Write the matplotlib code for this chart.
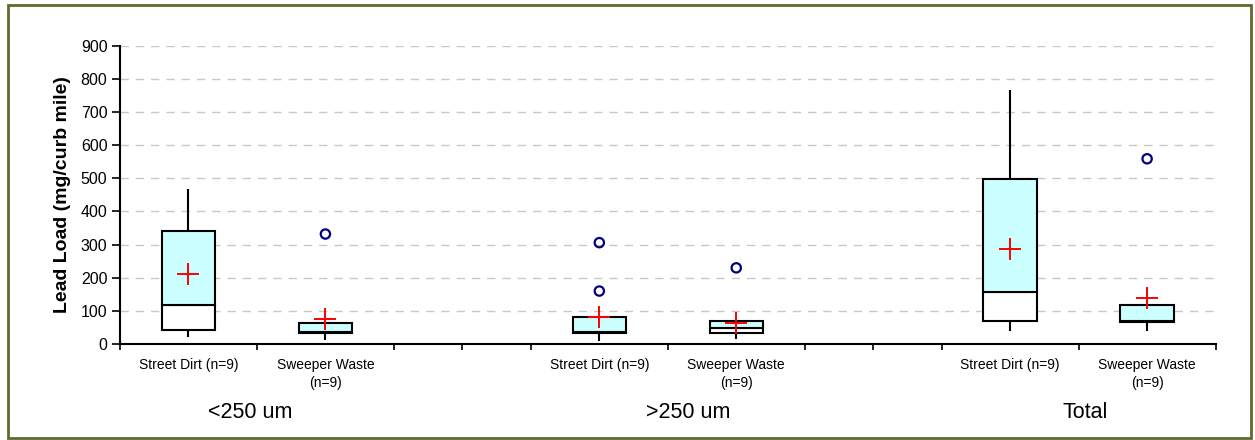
import matplotlib
matplotlib.use('Agg')
import matplotlib.pyplot as plt
from matplotlib.patches import Rectangle
import matplotlib.transforms as mtransforms

plt.rcParams['font.family'] = ['Liberation Sans', 'DejaVu Sans']

# data (mg/curb mile)
groups = ['<250 um', '>250 um', 'Total']
samples = ['Street Dirt (n=9)', 'Sweeper Waste\n(n=9)'] * 3
positions = [0.5, 1.5, 3.5, 4.5, 6.5, 7.5]
whisk_lo = [21, 11, 10, 16, 38, 38]
q1 = [43, 33, 33, 33, 70, 66]
median = [119, 36, 36, 50, 157, 69]
q3 = [342, 65, 81, 70, 498, 118]
whisk_hi = [467, 65, 81, 70, 768, 118]
means = [210, 76, 83, 65, 287, 140]
outlier_x = [1.5, 3.5, 3.5, 4.5, 7.5]
outlier_y = [332, 306, 160, 230, 559]
slot_edges = [0, 1, 2, 2.5, 3, 4, 5, 5.5, 6, 7, 8]
group_x = [0.95, 4.15, 7.05]

fig = plt.figure(figsize=(12.55, 4.40), dpi=100)
ax = fig.add_axes([0.0956, 0.218, 0.873, 0.678])

# outer frame
fig.patches.append(Rectangle((0.006, 0.004), 0.991, 0.984, transform=fig.transFigure,
                             fill=False, edgecolor='#5E6B2F', linewidth=2))

bw = 0.39
lower = [m - a for m, a in zip(median, q1)]
upper = [b - m for b, m in zip(q3, median)]
ax.vlines(positions, whisk_lo, q1, color='black', lw=1.5, zorder=2)
ax.vlines(positions, q3, whisk_hi, color='black', lw=1.5, zorder=2)
ax.bar(positions, lower, bottom=q1, width=bw, facecolor='white',
       edgecolor='black', linewidth=1.5, zorder=3)
ax.bar(positions, upper, bottom=median, width=bw, facecolor='#CCFFFF',
       edgecolor='black', linewidth=1.5, zorder=3)
ax.scatter(outlier_x, outlier_y, s=45, facecolors='none', edgecolors='#000080',
           linewidths=1.6, zorder=4)
ax.scatter(positions, means, marker='+', s=260, color='red', linewidths=1.4, zorder=5)

ax.set_xlim(0, 8)
ax.set_ylim(0, 900)
ax.set_yticks(range(0, 1000, 100))
ax.tick_params(axis='y', labelsize=11.5, length=6, width=1.2, direction='out', pad=3)
ax.set_xticks(slot_edges)
ax.set_xticklabels([])
ax.tick_params(axis='x', which='major', length=4, width=1.2, direction='out')
ax.set_xticks(positions, minor=True)
ax.set_xticklabels(samples, minor=True, fontsize=10, va='top', linespacing=1.35)
ax.tick_params(axis='x', which='minor', length=0, pad=10)

for y in range(100, 1000, 100):
    ax.axhline(y, color='#C8C8C8', lw=1, ls=(0, (6, 5)), zorder=1)

for s in ['top', 'right']:
    ax.spines[s].set_visible(False)
for s in ['left', 'bottom']:
    ax.spines[s].set_linewidth(1.5)

ax.set_ylabel('Lead Load (mg/curb mile)', fontsize=14, fontweight='bold', labelpad=7)

trans = mtransforms.blended_transform_factory(ax.transData, fig.transFigure)
for gx, g in zip(group_x, groups):
    ax.text(gx, 1 - 412 / 440, g, transform=trans, ha='center', va='center', fontsize=15.5)

fig.savefig('out.png', dpi=100, facecolor='white')
